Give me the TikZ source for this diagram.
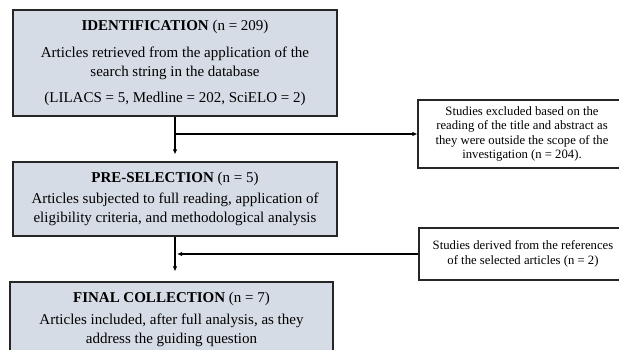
\documentclass[tikz,border=0pt]{standalone}
\usepackage{fontspec}
\setmainfont{Liberation Serif}
\usetikzlibrary{arrows.meta}
\definecolor{stagefill}{HTML}{D6DCE5}

\begin{document}
\begin{tikzpicture}[
  x=1pt, y=-1pt,
  stage/.style={draw=black!85, line width=1.2pt, fill=stagefill, align=center,
                inner sep=0pt, minimum width=324pt,
                font=\fontsize{15}{19}\selectfont},
  note/.style={draw=black!85, line width=1.2pt, fill=white, align=center,
               inner sep=0pt, minimum width=208pt,
               font=\fontsize{12.7}{14.3}\selectfont},
  e/.style={line width=1.2pt, -{Latex[length=5pt,width=4.5pt]}}
]
\clip (0,0) rectangle (619,350);

% review stages
\node[stage, minimum height=106pt] (ident) at (175,63)
  {\textbf{IDENTIFICATION} (n = 209)\\[8pt]
   Articles retrieved from the application of the\\
   search string in the database\\[7pt]
   (LILACS = 5, Medline = 202, SciELO = 2)};
\node[stage, minimum height=74pt] (presel) at (175,199)
  {\textbf{PRE-SELECTION} (n = 5)\\[2pt]
   Articles subjected to full reading, application of\\
   eligibility criteria, and methodological analysis};
\node[stage, minimum width=323pt, minimum height=74pt] (final) at (171.5,319)
  {\textbf{FINAL COLLECTION} (n = 7)\\[3pt]
   Articles included, after full analysis, as they\\
   address the guiding question};

% side notes
\node[note, minimum height=68pt] (excluded) at (522,134)
  {Studies excluded based on the\\
   reading of the title and abstract as\\
   they were outside the scope of the\\
   investigation (n = 204).};
\node[note, minimum height=52pt] (derived) at (523,254)
  {Studies derived from the references\\
   of the selected articles (n = 2)};

% arrows
\coordinate (split) at (175,134);
\coordinate (merge) at (177,254);
\draw[e, shorten >=7pt] (ident) -- (presel);
\draw[e] (split) -- (excluded.west);
\draw[e, shorten >=10pt] (presel) -- (final.north -| presel.south);
\draw[e] (derived.west) -- (merge);

\end{tikzpicture}
\end{document}
